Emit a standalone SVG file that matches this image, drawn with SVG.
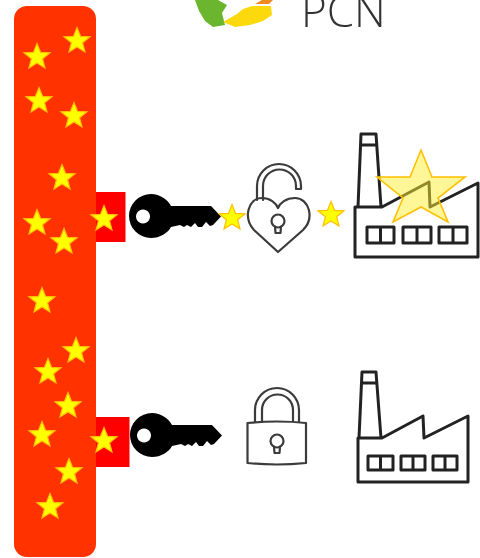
<svg xmlns="http://www.w3.org/2000/svg" xmlns:xlink="http://www.w3.org/1999/xlink" width="480" height="558" viewBox="0 0 480 558">
<style>
.st{fill:#ffff00;stroke:#ffbe00;stroke-width:1.200;stroke-linejoin:miter}
.ol{fill:none;stroke:#222;stroke-width:3;stroke-linejoin:round;stroke-linecap:round}
.lk{fill:none;stroke:#3a3a3a;stroke-width:2.200;stroke-linejoin:round;stroke-linecap:round}
.red{fill:#ff0000}
text{font-family:"Open Sans","Noto Sans","Liberation Sans",sans-serif;font-weight:300;font-size:44px;fill:#333}
</style>
<defs>
<filter id="soft" x="-5%" y="-5%" width="110%" height="110%"><feGaussianBlur stdDeviation="0.55"/></filter>
<polygon id="star" class="st" points="0,-13.500 3.600,-4.600 13,-4.200 5.600,1.800 8,11 0,6 -8,11 -5.600,1.800 -13,-4.200 -3.600,-4.600"/>
<path id="key" fill="#000" fill-rule="evenodd" d="M0,-22C9,-22 17,-16 20,-10H60L70,0.500 62,9 59,10 55,6 51,11 47,11 44,7 40,11 36,9 33,11 29,9 20,11C17,17 9,22 0,22A22,22 0 0 1 0,-22ZM-8,-6.500A7,7 0 1 0 -7.990,-6.500Z"/>
<g id="keyhole"><circle cx="0" cy="-3" r="6.500" class="lk"/><path class="lk" d="M-3,2.500L-2.500,9H2.500L3,2.500"/></g>
</defs>
<g filter="url(#soft)">
<g id="logo">
<path fill="#6cb52d" d="M195,0H218L227,5 222,13 225,25 213,27 205,21 199,11Z"/>
<path fill="#fbd90c" d="M223,22L237,14 243,9 252,6 271,6 272,15 263,21 250,25 235,27Z"/>
<path fill="#f08a24" d="M255,4L262,0H273L269,4Z"/>
<text x="301" y="27">PCN</text>
</g>
<g id="backbone">
<rect x="14" y="6" width="82" height="551" rx="13" fill="#ff3300"/>
<use xlink:href="#star" href="#star" x="77" y="41"/>
<use xlink:href="#star" href="#star" x="37" y="57"/>
<use xlink:href="#star" href="#star" x="39" y="101"/>
<use xlink:href="#star" href="#star" x="74" y="116"/>
<use xlink:href="#star" href="#star" x="62" y="178"/>
<use xlink:href="#star" href="#star" x="37" y="223"/>
<use xlink:href="#star" href="#star" x="64" y="242"/>
<use xlink:href="#star" href="#star" x="42" y="301"/>
<use xlink:href="#star" href="#star" x="76" y="351"/>
<use xlink:href="#star" href="#star" x="48" y="372"/>
<use xlink:href="#star" href="#star" x="68" y="406"/>
<use xlink:href="#star" href="#star" x="42" y="435"/>
<use xlink:href="#star" href="#star" x="69" y="472"/>
<use xlink:href="#star" href="#star" x="50" y="507"/>
</g>
<g id="port-top"><rect class="red" x="96" y="192" width="29.500" height="50"/><use xlink:href="#star" href="#star" x="104" y="219"/></g>
<g id="port-bottom"><rect class="red" x="96" y="417" width="33.500" height="50"/><use xlink:href="#star" href="#star" x="104" y="441"/></g>
<g id="connectors"></g>
<g id="key-top"><use xlink:href="#key" href="#key" x="151" y="216"/></g>
<g id="key-bottom"><use xlink:href="#key" href="#key" x="152" y="435"/></g>
<g id="star-left"><use xlink:href="#star" href="#star" x="232" y="218"/></g>
<g id="star-right"><use xlink:href="#star" href="#star" x="331" y="215"/></g>
<g id="heart-lock">
<path class="lk" d="M278,252L254,230C243,218 248,198 262,198 270,198 276,203 278,208 280,203 286,198 295,198 309,198 315,218 303,230Z"/>
<path class="lk" d="M257,200V186A22,22 0 0 1 301,186V189H296V186A16.500,16.500 0 0 0 263,186V200"/>
<use xlink:href="#keyhole" href="#keyhole" x="278" y="224"/>
</g>
<g id="padlock">
<path class="lk" d="M247.500,423Q277,420 306,423V463Q277,466 247.500,463Z"/>
<path class="lk" d="M255,422V410A22,22 0 0 1 299,410V422M262,421V410A15.500,15.500 0 0 1 293,410V421"/>
<use xlink:href="#keyhole" href="#keyhole" x="277" y="444"/>
</g>
<g id="factory-top">
<path class="ol" d="M355,207V257H478V183L430,207 429,182 382,207ZM358,207L361,134H376L381,207M360.500,145H376.500"/>
<path class="ol" d="M367,227H394V243H367ZM380.500,227V243M403,227H431V243H403ZM417,227V243M439,227H467V243H439ZM453,227V243"/>
<polygon points="421,150 432,177 465,177 438,198 448,222 421,207 393,222 403,198 377,177 410,177" fill="#ffee33" fill-opacity=".5" stroke="#ffc000" stroke-width="1.600"/>
</g>
<g id="factory-bottom">
<path class="ol" d="M358,438V482H468V416L424,438 423,416 382,438ZM359,438L362,372H376L381,438M361.500,383H376.500"/>
<path class="ol" d="M368,456H393V470H368ZM380.500,456V470M401,456H425V470H401ZM413,456V470M433,456H457V470H433ZM445,456V470"/>
</g>
</g>
</svg>
